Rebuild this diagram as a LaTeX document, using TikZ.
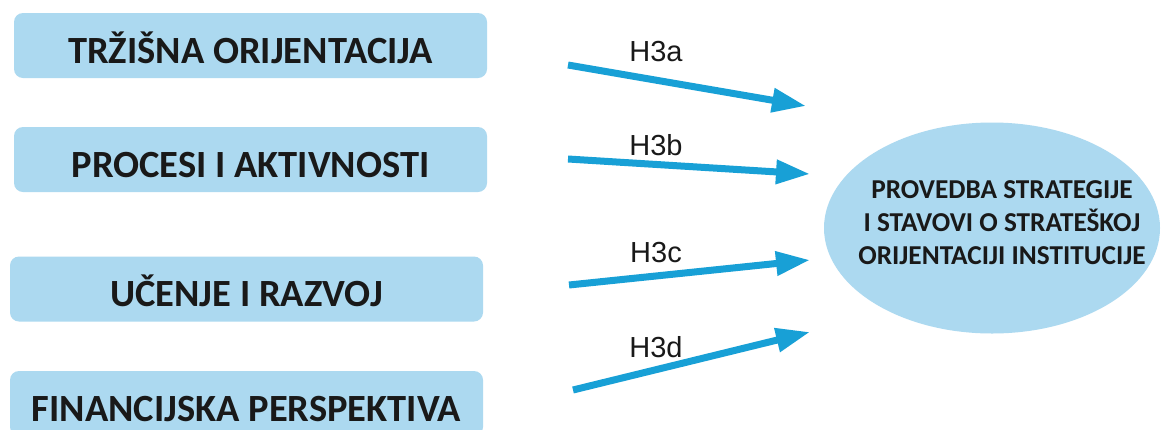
\documentclass[tikz,border=0pt]{standalone}
\usepackage{fontspec}
\setmainfont{Carlito}
\newfontfamily\arialfont{Liberation Sans}
\usetikzlibrary{shapes.geometric,arrows.meta}
\definecolor{boxblue}{RGB}{172,217,240}
\definecolor{arrowblue}{RGB}{24,160,214}
\definecolor{txt}{RGB}{25,25,25}
\tikzset{
  factor/.style={fill=boxblue, rounded corners=9pt, minimum width=473pt, minimum height=65pt,
    inner sep=0pt, text height=35pt, text depth=0pt, text=txt,
    font=\fontsize{38.5}{44}\selectfont\bfseries},
  hyparrow/.style={draw=arrowblue, line width=7pt, -{Triangle[length=34pt,width=23pt]}},
  hyplabel/.style={font=\arialfont\fontsize{29}{33}\selectfont, text=txt, inner sep=0pt},
  goalshape/.style={ellipse, fill=boxblue, minimum width=336pt, minimum height=211pt, inner sep=0pt},
  goaltext/.style={align=center, text=txt, inner sep=0pt, font=\fontsize{27.3}{33}\selectfont\bfseries}
}
\begin{document}
\begin{tikzpicture}[x=1pt,y=-1pt]
\clip (0,0) rectangle (1161,429);
\fill[white] (0,0) rectangle (1161,429);
\node[factor] (f1) at (250.5,45.5) {TRŽIŠNA ORIJENTACIJA};
\node[factor] (f2) at (250.5,159.5) {PROCESI I AKTIVNOSTI};
\node[factor] (f3) at (246.5,289) {UČENJE I RAZVOJ};
\node[factor] (f4) at (246.5,403.5) {FINANCIJSKA PERSPEKTIVA};
\node[goalshape] (goal) at (992,228) {};
\node[goaltext] (goaltxt) at (1002,223) {PROVEDBA STRATEGIJE\\I STAVOVI O STRATEŠKOJ\\ORIJENTACIJI INSTITUCIJE};
\coordinate (a1) at (568,65);  \coordinate (b1) at (806,106);
\coordinate (a2) at (568,159); \coordinate (b2) at (810,174);
\coordinate (a3) at (569,285); \coordinate (b3) at (810,260);
\coordinate (a4) at (573,390); \coordinate (b4) at (810,332);
\draw[hyparrow] (a1) -- (b1);
\draw[hyparrow] (a2) -- (b2);
\draw[hyparrow] (a3) -- (b3);
\draw[hyparrow] (a4) -- (b4);
\node[hyplabel] (l1) at (656,52) {H3a};
\node[hyplabel] (l2) at (656,145) {H3b};
\node[hyplabel] (l3) at (656,253) {H3c};
\node[hyplabel] (l4) at (656,347) {H3d};
\end{tikzpicture}
\end{document}
